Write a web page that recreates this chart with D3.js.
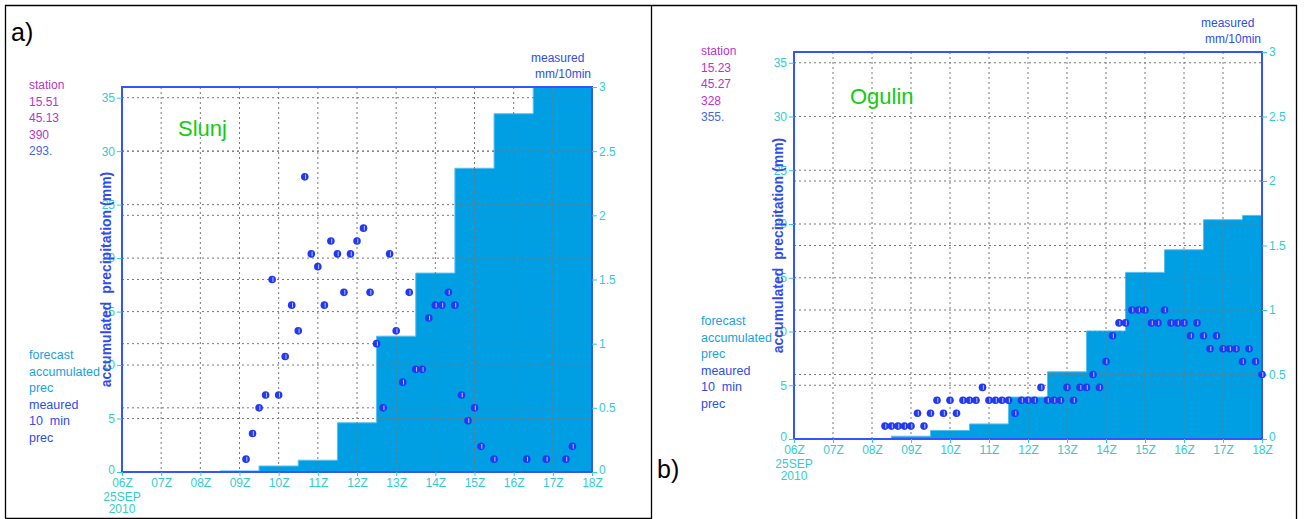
<!DOCTYPE html>
<html>
<head>
<meta charset="utf-8">
<script src="https://cdn.jsdelivr.net/npm/d3@7"></script>
<style>
  body { margin: 0; background: #fff; }
  text { font-family: "Liberation Sans", Arial, sans-serif; white-space: pre; }
</style>
</head>
<body>
<script>
// axis ticks
const hourLabels = ['06Z', '07Z', '08Z', '09Z', '10Z', '11Z', '12Z', '13Z', '14Z', '15Z', '16Z', '17Z', '18Z'];
const accTicks = [0, 5, 10, 15, 20, 25, 30, 35];
const rateTicks = [0, 0.5, 1, 1.5, 2, 2.5, 3];

// forecast accumulated precipitation (mm), hourly steps
const barEdges = ['08:30', '09:30', '10:30', '11:30', '12:30', '13:30', '14:30', '15:30', '16:30', '17:30', '18:00'];
const slunjAcc = [0.1, 0.56, 1.1, 4.6, 12.7, 18.6, 28.4, 33.5, 36.5, 37];
const ogulinAcc = [0.26, 0.8, 1.4, 3.9, 6.25, 10.05, 15.5, 17.6, 20.4, 20.8];

// measured 10 min precipitation (mm/10min)
const slunjTimes = ['09:10', '09:20', '09:30', '09:40', '09:50', '10:00', '10:10', '10:20', '10:30', '10:40',
  '10:50', '11:00', '11:10', '11:20', '11:30', '11:40', '11:50', '12:00', '12:10', '12:20',
  '12:30', '12:40', '12:50', '13:00', '13:10', '13:20', '13:30', '13:40', '13:50', '14:00',
  '14:10', '14:20', '14:30', '14:40', '14:50', '15:00', '15:10', '15:30', '16:20', '16:50',
  '17:20', '17:30'];
const slunjRain = [0.1, 0.3, 0.5, 0.6, 1.5, 0.6, 0.9, 1.3, 1.1, 2.3,
  1.7, 1.6, 1.3, 1.8, 1.7, 1.4, 1.7, 1.8, 1.9, 1.4,
  1.0, 0.5, 1.7, 1.1, 0.7, 1.4, 0.8, 0.8, 1.2, 1.3,
  1.3, 1.4, 1.3, 0.6, 0.4, 0.5, 0.2, 0.1, 0.1, 0.1,
  0.1, 0.2];
const ogulinTimes = ['08:20', '08:30', '08:40', '08:50', '09:00', '09:10', '09:20', '09:30', '09:40', '09:50',
  '10:00', '10:10', '10:20', '10:30', '10:40', '10:50', '11:00', '11:10', '11:20', '11:30',
  '11:40', '11:50', '12:00', '12:10', '12:20', '12:30', '12:40', '12:50', '13:00', '13:10',
  '13:20', '13:30', '13:40', '13:50', '14:00', '14:10', '14:20', '14:30', '14:40', '14:50',
  '15:00', '15:10', '15:20', '15:30', '15:40', '15:50', '16:00', '16:10', '16:20', '16:30',
  '16:40', '16:50', '17:00', '17:10', '17:20', '17:30', '17:40', '17:50', '18:00'];
const ogulinRain = [0.1, 0.1, 0.1, 0.1, 0.1, 0.2, 0.1, 0.2, 0.3, 0.2,
  0.3, 0.2, 0.3, 0.3, 0.3, 0.4, 0.3, 0.3, 0.3, 0.3,
  0.2, 0.3, 0.3, 0.3, 0.4, 0.3, 0.3, 0.3, 0.4, 0.3,
  0.4, 0.4, 0.5, 0.4, 0.6, 0.8, 0.9, 0.9, 1.0, 1.0,
  1.0, 0.9, 0.9, 1.0, 0.9, 0.9, 0.9, 0.8, 0.9, 0.8,
  0.7, 0.8, 0.7, 0.7, 0.7, 0.6, 0.7, 0.6, 0.5];

const slunjStation = ['15.51', '45.13', '390', '293.'];
const ogulinStation = ['15.23', '45.27', '328', '355.'];

const cyan = '#33cccc';
const blue = '#2f4cf0';
const magenta = '#bb33cc';
const barBlue = '#009fe3';
const green = '#11cc11';

const parseT = d3.utcParse('%H:%M');

const svg = d3.select('body').append('svg')
  .attr('width', 1304)
  .attr('height', 519);

svg.append('rect').attr('width', 1304).attr('height', 519).attr('fill', '#fff');

// figure frame
svg.append('path')
  .attr('d', 'M5.5,518.5 V5.5 H1296.5 V519 M651.5,5.5 V519 M5.5,518.5 H651.5')
  .attr('fill', 'none')
  .attr('stroke', '#000')
  .attr('stroke-width', 1.3);

function panel(opt) {
  const { left, top, width, height } = opt;
  const g = svg.append('g');

  const x = d3.scaleUtc()
    .domain([parseT('06:00'), parseT('18:00')])
    .range([left, left + width]);
  const yAcc = d3.scaleLinear().domain([0, 36]).range([top + height, top]);
  const yRate = d3.scaleLinear().domain([0, 3]).range([top + height, top]);

  const clipId = 'clip' + opt.id;
  svg.append('clipPath').attr('id', clipId)
    .append('rect')
    .attr('x', left).attr('y', top)
    .attr('width', width).attr('height', height);

  // forecast accumulated bars as a step area
  const stepData = barEdges.map((t, i) => ({ t: parseT(t), v: opt.acc[Math.min(i, opt.acc.length - 1)] }));
  g.append('path')
    .datum(stepData)
    .attr('clip-path', `url(#${clipId})`)
    .attr('fill', barBlue)
    .attr('stroke', '#55c0ef')
    .attr('stroke-width', 1)
    .attr('d', d3.area()
      .curve(d3.curveStepAfter)
      .x(d => x(d.t))
      .y0(yAcc(0))
      .y1(d => yAcc(d.v)));

  // grid
  const hourTimes = hourLabels.map(h => parseT(h.slice(0, 2) + ':00'));
  g.append('g')
    .selectAll('line')
    .data(hourTimes.slice(1, -1))
    .join('line')
    .attr('x1', d => x(d)).attr('x2', d => x(d))
    .attr('y1', top).attr('y2', top + height)
    .attr('stroke', '#777')
    .attr('stroke-dasharray', '2,3');
  g.append('g')
    .selectAll('line')
    .data(accTicks.slice(1))
    .join('line')
    .attr('x1', left).attr('x2', left + width)
    .attr('y1', d => yAcc(d)).attr('y2', d => yAcc(d))
    .attr('stroke', '#777')
    .attr('stroke-dasharray', '2,3');
  g.append('g')
    .selectAll('line')
    .data(rateTicks.slice(1, -1))
    .join('line')
    .attr('x1', left).attr('x2', left + width)
    .attr('y1', d => yRate(d)).attr('y2', d => yRate(d))
    .attr('stroke', '#777')
    .attr('stroke-dasharray', '2,3');

  // plot frame
  g.append('rect')
    .attr('x', left).attr('y', top)
    .attr('width', width).attr('height', height)
    .attr('fill', 'none')
    .attr('stroke', '#3355ff')
    .attr('stroke-width', 2);

  // axes
  const axL = g.append('g')
    .attr('transform', `translate(${left},0)`)
    .call(d3.axisLeft(yAcc).tickValues(accTicks).tickSize(5).tickPadding(2));
  const axR = g.append('g')
    .attr('transform', `translate(${left + width},0)`)
    .call(d3.axisRight(yRate).tickValues(rateTicks).tickSize(5).tickPadding(2).tickFormat(d3.format('')));
  const axB = g.append('g')
    .attr('transform', `translate(0,${top + height})`)
    .call(d3.axisBottom(x).tickValues(hourTimes).tickSize(4).tickPadding(2)
      .tickFormat((d, i) => hourLabels[i]));
  [axL, axR, axB].forEach(a => {
    a.select('.domain').remove();
    a.selectAll('line').attr('stroke', cyan);
    a.selectAll('text').attr('fill', cyan).style('font-size', '12px');
  });
  // zero labels sit just above the time axis
  axL.selectAll('.tick text').filter(d => d === 0).attr('dy', '0.1em');
  axR.selectAll('.tick text').filter(d => d === 0).attr('dy', '0.1em');

  // date under first tick
  ['25SEP', '2010'].forEach((s, i) => {
    g.append('text')
      .attr('x', left)
      .attr('y', top + height + 29 + i * 12)
      .attr('text-anchor', 'middle')
      .attr('fill', cyan)
      .style('font-size', '12px')
      .text(s);
  });

  // measured 10 min points
  const pts = g.append('g')
    .selectAll('g')
    .data(opt.times.map((t, i) => ({ t: parseT(t), v: opt.rain[i] })))
    .join('g')
    .attr('transform', d => `translate(${x(d.t)},${yRate(d.v)})`);
  pts.append('circle').attr('r', 3.8).attr('fill', '#2238f2');
  pts.append('line')
    .attr('x1', 0.8).attr('x2', 0.8).attr('y1', -2.3).attr('y2', 2.3)
    .attr('stroke', '#b8c4ff').attr('stroke-width', 1);

  // y label
  g.append('text')
    .attr('transform', `translate(${left - 11},${top + height / 2}) rotate(-90)`)
    .attr('text-anchor', 'middle')
    .attr('fill', blue)
    .style('font-size', '14px')
    .style('font-weight', 'bold')
    .text('accumulated  precipitation (mm)');

  // right axis title
  g.append('text')
    .attr('x', left + width - 61).attr('y', top - 25)
    .attr('fill', blue).style('font-size', '12px')
    .text('measured');
  g.append('text')
    .attr('x', left + width - 57).attr('y', top - 9)
    .attr('fill', blue).style('font-size', '12px')
    .text('mm/10min');

  // station name
  g.append('text')
    .attr('x', opt.nameX).attr('y', opt.nameY)
    .attr('fill', green)
    .style('font-size', '22px')
    .text(opt.name);

  // station info
  const info = ['station'].concat(opt.station);
  info.forEach((s, i) => {
    g.append('text')
      .attr('x', opt.textX).attr('y', opt.infoY + i * 16.6)
      .attr('fill', i === 4 ? '#4466ee' : magenta)
      .style('font-size', '12px')
      .text(s);
  });

  const legend = [['forecast', '#1a9fe6'], ['accumulated', '#1a9fe6'], ['prec', '#1a9fe6'],
    ['meaured', blue], ['10  min', blue], ['prec', blue]];
  legend.forEach(([s, c], i) => {
    g.append('text')
      .attr('x', opt.textX).attr('y', opt.legY + i * 16.6)
      .attr('fill', c)
      .style('font-size', '12.5px')
      .text(s);
  });

  // panel letter
  svg.append('text')
    .attr('x', opt.letterX).attr('y', opt.letterY)
    .attr('fill', '#000')
    .style('font-size', '25px')
    .text(opt.letter);
}

panel({
  id: 'a', left: 122, top: 87, width: 470, height: 385,
  acc: slunjAcc, times: slunjTimes, rain: slunjRain, station: slunjStation,
  name: 'Slunj', nameX: 178, nameY: 136,
  textX: 29, infoY: 89, legY: 359,
  letter: 'a)', letterX: 11, letterY: 41
});

panel({
  id: 'b', left: 794, top: 52, width: 468, height: 387,
  acc: ogulinAcc, times: ogulinTimes, rain: ogulinRain, station: ogulinStation,
  name: 'Ogulin', nameX: 850, nameY: 104,
  textX: 701, infoY: 55, legY: 325,
  letter: 'b)', letterX: 657, letterY: 478
});
</script>
</body>
</html>
